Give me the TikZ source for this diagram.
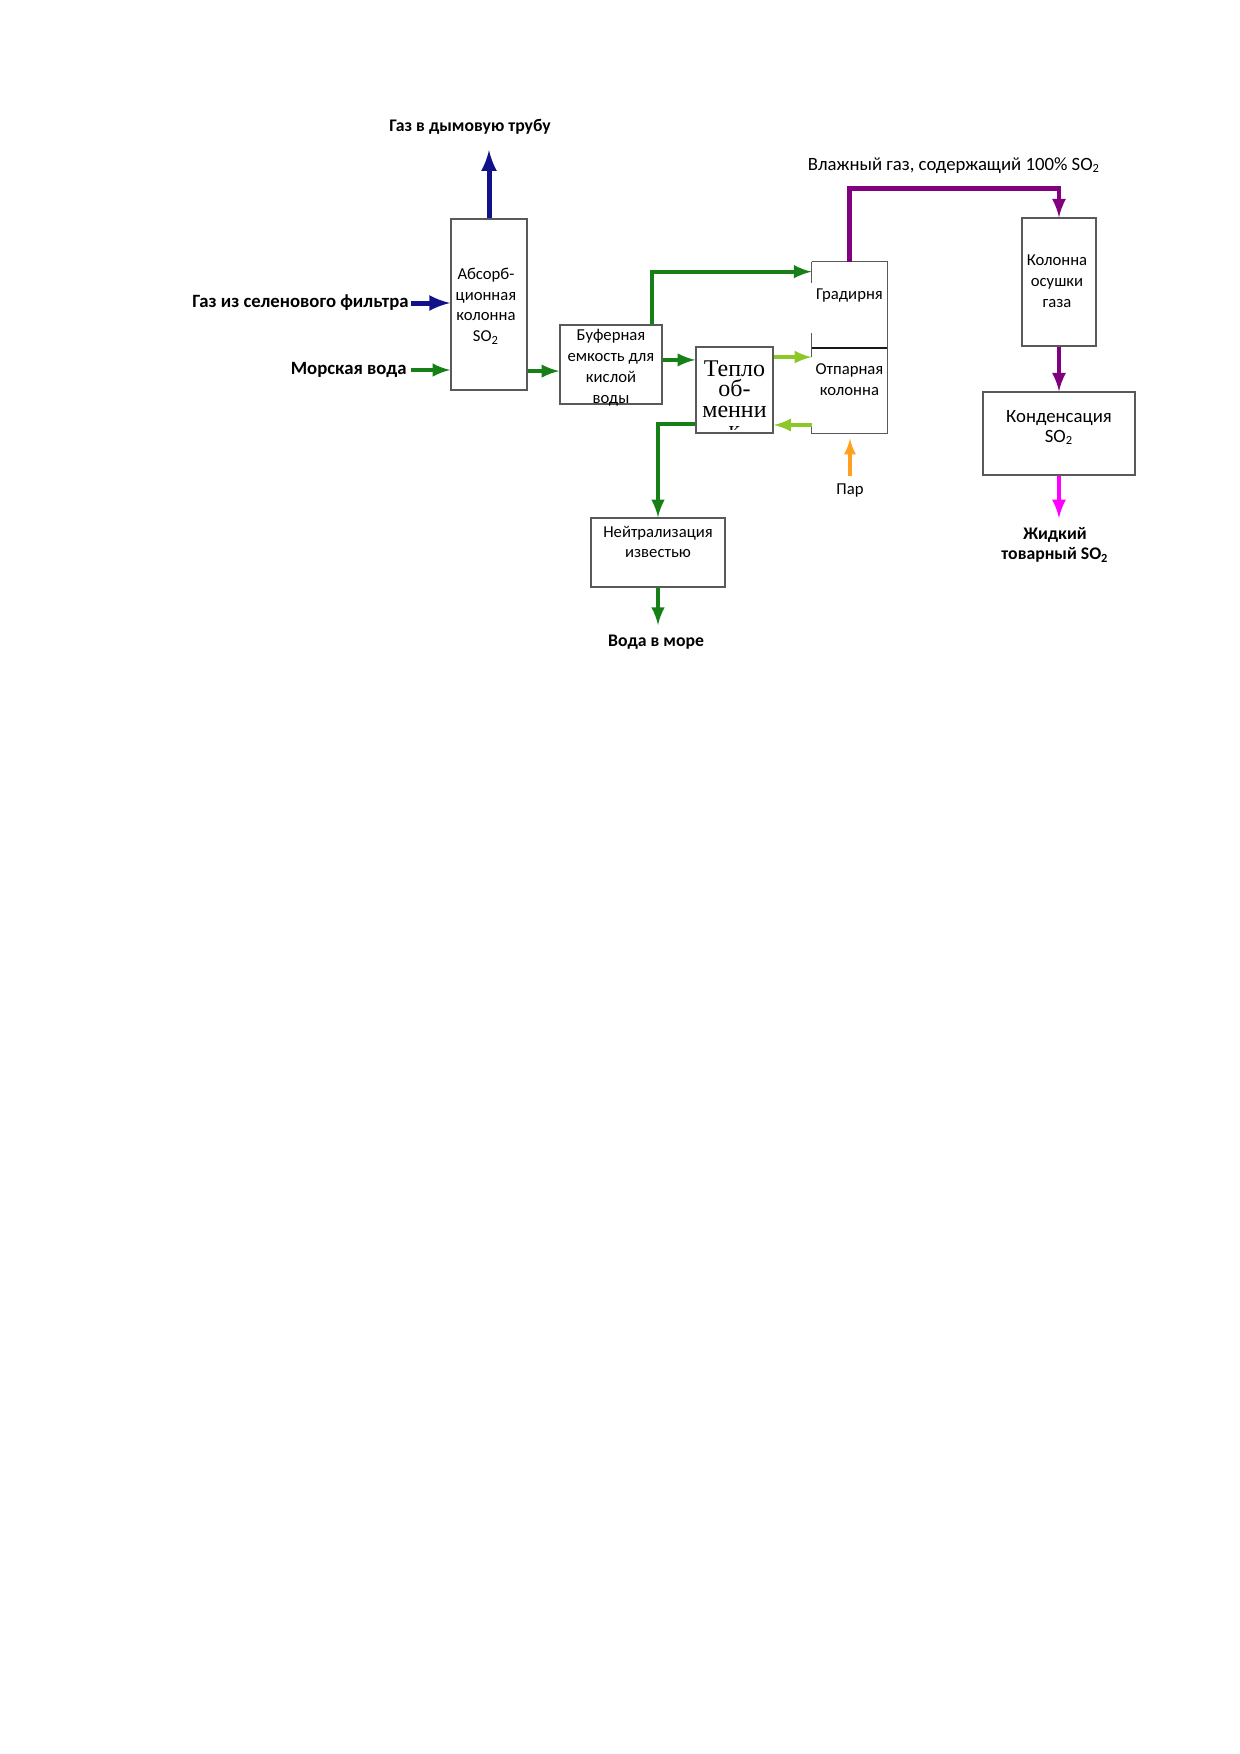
\documentclass[tikz,border=0pt]{standalone}
\usepackage{fontspec}
\setmainfont{Carlito}
\newfontfamily\tnrfont{Liberation Serif}
\definecolor{gasblue}{RGB}{16,18,138}
\definecolor{watergreen}{RGB}{22,128,22}
\definecolor{lightgreen}{RGB}{140,200,40}
\definecolor{steamorange}{RGB}{255,160,30}
\definecolor{so2purple}{RGB}{128,0,128}
\definecolor{liqmagenta}{RGB}{255,0,255}
\begin{document}
\begin{tikzpicture}[x=0.48pt,y=-0.48pt,>=latex,
    box/.style={draw=black!65,line width=0.7pt,inner sep=0pt},
    txt/.style={align=center,inner sep=0pt,font=\fontsize{8}{10}\selectfont},
    lbl/.style={align=center,inner sep=0pt,font=\fontsize{8.5}{9.6}\selectfont\bfseries},
    gas/.style={->,line width=2.4pt,gasblue},
    water/.style={->,line width=1.9pt,watergreen},
    loop/.style={->,line width=1.8pt,lightgreen},
    steam/.style={->,line width=1.6pt,steamorange},
    wet/.style={->,line width=2pt,so2purple},
    liquid/.style={->,line width=2pt,liqmagenta}]
\useasboundingbox (0,0) rectangle (1240,1754);

% apparatus
\node[box,minimum width=36.5pt,minimum height=82.1pt] (abs) at (489,304.5) {};
\node[txt] (abs-t) at (486,306) {Абсорб-\\ционная\\колонна\\SO\textsubscript{2}};
\node[box,minimum width=49pt,minimum height=37.9pt] (buf) at (611,364.5) {};
\node[txt] (buf-t) at (611,367.5) {Буферная\\емкость для\\кислой\\воды};
\node[box,minimum width=37pt,minimum height=41.3pt] (hx) at (734.5,390) {};
\begin{scope}
  \clip (hx.north west) rectangle (hx.east |- 0,429);
  \node[align=center,inner sep=0pt,anchor=base,font=\tnrfont\fontsize{11.5}{9.8}\selectfont] (hx-t) at (734.5,437.5) {Тепло\\об-\\менни\\к};
\end{scope}
\node[minimum width=36pt,minimum height=41.3pt,inner sep=0pt] (grad) at (849.5,305) {};
\node[txt] (grad-t) at (849.5,296) {Градирня};
\node[minimum width=36pt,minimum height=40.8pt,inner sep=0pt] (strip) at (849.5,390.5) {};
\node[txt] (strip-t) at (849.5,380) {Отпарная\\колонна};
\node[box,minimum width=35.5pt,minimum height=61.4pt] (dry) at (1059,282) {};
\node[txt] (dry-t) at (1057,281) {Колонна\\осушки\\газа};
\node[box,minimum width=73pt,minimum height=39.8pt] (cond) at (1059,433.5) {};
\node[txt,font=\fontsize{9}{10}\selectfont] (cond-t) at (1059,427.5) {Конденсация\\SO\textsubscript{2}};
\node[box,minimum width=64.3pt,minimum height=33.1pt] (neut) at (658,552.5) {};
\node[txt] (neut-t) at (658,542) {Нейтрализация\\известью};

% column with open left side
\draw[black!65,line width=0.7pt] (grad.north west) -- (grad.north east) -- (strip.south east) -- (strip.south west) -- ++(0,-8);
\draw[black!65,line width=0.7pt] (grad.north west) -- ++(0,21);
\draw[black!65,line width=0.7pt] (grad.south west) -- ++(0,-15);
\draw[black!65,line width=0.7pt] (strip.north west) -- ++(0,9);
\draw[black!90,line width=1pt] (grad.south west) -- (grad.south east);

% texts
\node[lbl] (stack) at (470,127) {Газ в дымовую трубу};
\node[lbl,anchor=east,font=\fontsize{9}{10}\selectfont\bfseries] (gasin) at (409,303) {Газ из селенового фильтра};
\node[lbl,anchor=east,font=\fontsize{9}{10}\selectfont\bfseries] (sea) at (407,370) {Морская вода};
\node[lbl] (seaout) at (656,642) {Вода в море};
\node[txt] (vapour) at (850,490) {Пар};
\node[txt,font=\fontsize{9}{10}\selectfont] (wetgas) at (954,166) {Влажный газ, содержащий 100\% SO\textsubscript{2}};
\node[lbl] (product) at (1055,545) {Жидкий\\товарный SO\textsubscript{2}};

\coordinate (stacktip) at (489,150);
\coordinate (seatip) at (658,625);
\coordinate (vapourtail) at (850,476);
\coordinate (prodtip) at (1059,518);

% flows
\draw[gas] (abs.north) -- (stacktip);
\draw[gas] ([xshift=1pt]gasin.east) -- (gasin.east -| abs.west);
\draw[water] ([xshift=2pt]sea.east) -- (sea.east -| abs.west);
\draw[water] ([yshift=-0.5pt]sea.east -| abs.east) -- ([yshift=-0.5pt]sea.east -| buf.west);
\draw[water] ([xshift=-5.3pt]buf.north east) |- ([yshift=16pt]grad.west);
\draw[water] ([yshift=2.2pt]buf.east) -- ([yshift=2.2pt]buf.east -| hx.west);
\draw[loop] ([yshift=15.8pt]hx.east) -- ([yshift=15.8pt]hx.east -| strip.west);
\draw[loop] ([yshift=-16.8pt]hx.east -| strip.west) -- ([yshift=-16.8pt]hx.east);
\draw[water] ([yshift=-16.3pt]hx.west) -| (neut.north);
\draw[water] (neut.south) -- (seatip);
\draw[steam] (vapourtail) -- ([yshift=-2.5pt]vapourtail |- strip.south);
\draw[wet] (grad.north) -- ++(0,-73) -| (dry.north);
\draw[wet] (dry.south) -- (cond.north);
\draw[liquid] (cond.south) -- (prodtip);
\end{tikzpicture}
\end{document}
